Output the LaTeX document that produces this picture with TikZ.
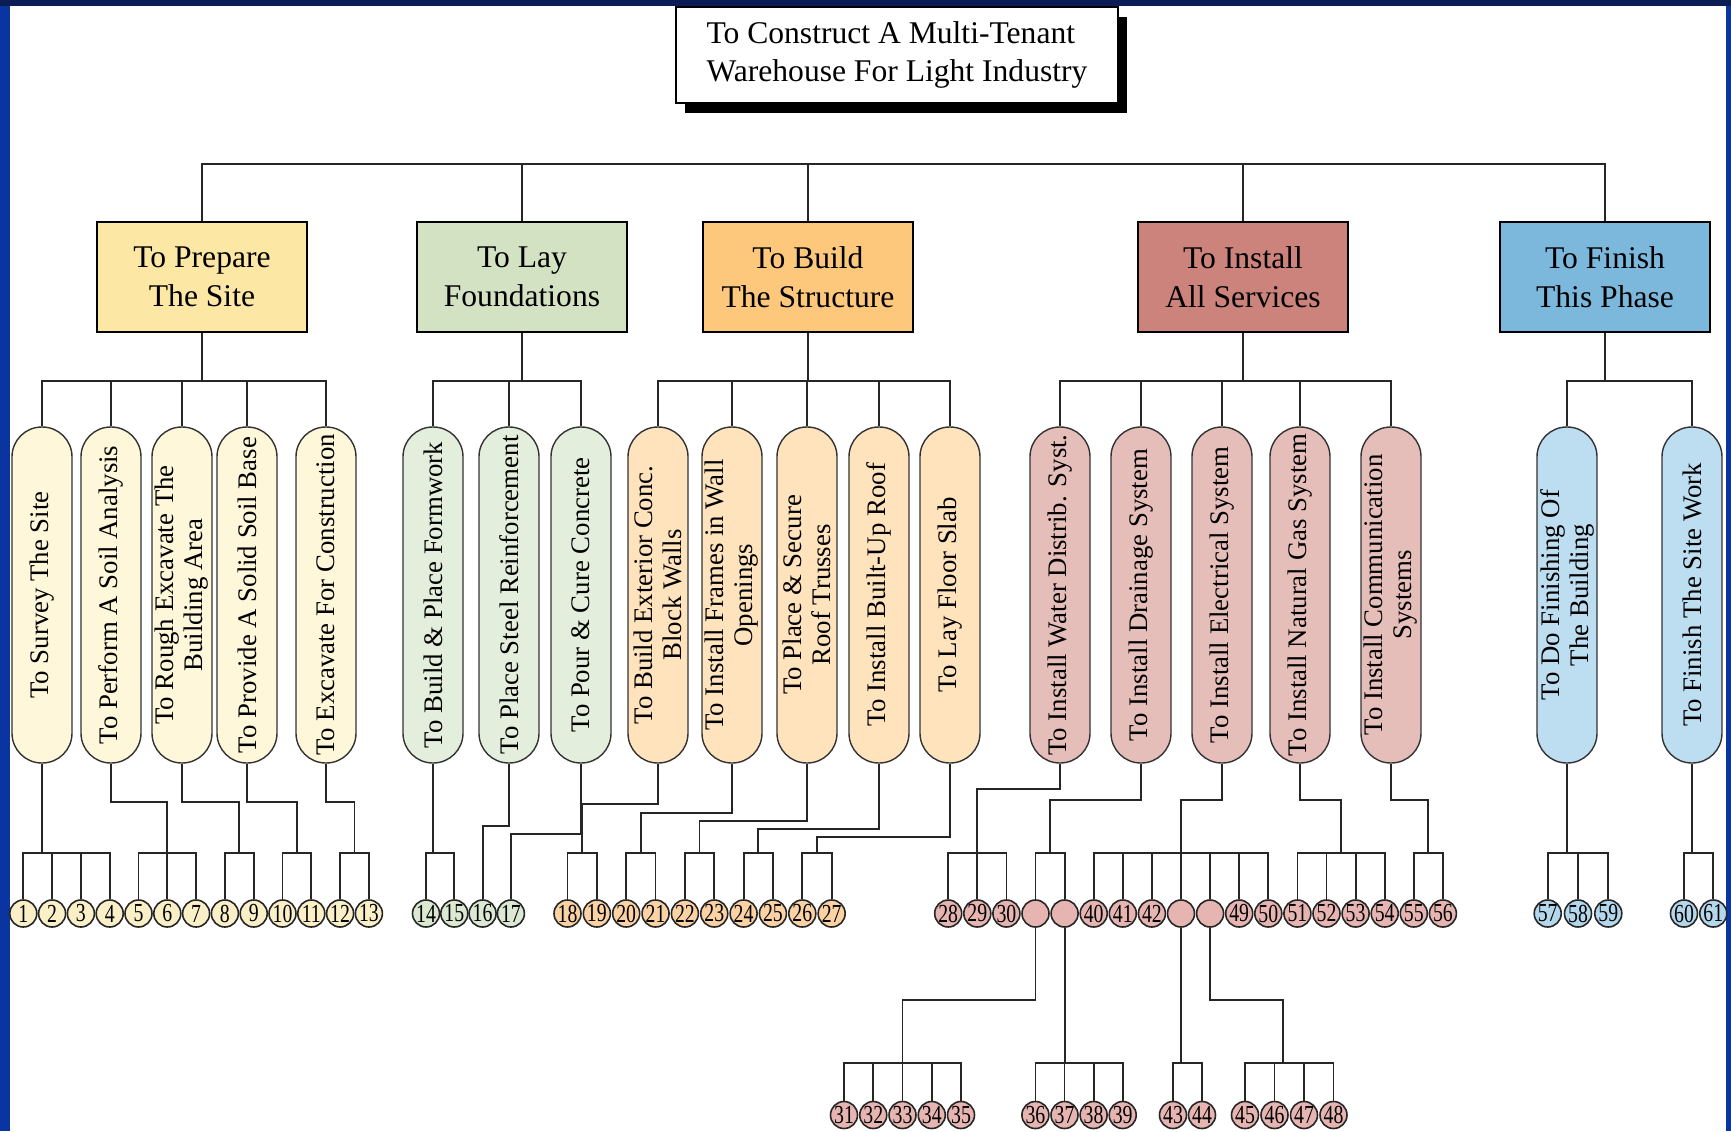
\documentclass[tikz,border=0pt]{standalone}
\usepackage{fontspec}
\usepackage{graphicx}
\setmainfont{Liberation Serif}
\usetikzlibrary{calc,shadows}

% frame colours
\definecolor{framenavy}{HTML}{0A1E55}
\definecolor{frameblue}{HTML}{0A35A0}
% phase colours: box / task pill / work package circle
\definecolor{boxY}{HTML}{FCE8A4}\definecolor{pillY}{HTML}{FEF7DA}\definecolor{numY}{HTML}{FAEFC6}
\definecolor{boxG}{HTML}{D2E2C2}\definecolor{pillG}{HTML}{E3EFDC}\definecolor{numG}{HTML}{DBE8D2}
\definecolor{boxO}{HTML}{FEC87C}\definecolor{pillO}{HTML}{FFE3BD}\definecolor{numO}{HTML}{FAD2A4}
\definecolor{boxR}{HTML}{CB837C}\definecolor{pillR}{HTML}{E6BEB9}\definecolor{numR}{HTML}{E6B5B1}
\definecolor{boxB}{HTML}{7CB8DC}\definecolor{pillB}{HTML}{BDDDF0}\definecolor{numB}{HTML}{B4D7EC}

\newcommand\numtxt[1]{\scalebox{0.76}[1]{#1}}
% a bus above a row of circles: #1 bus level, #2 first, #3 last, #4 inner drops
\newcommand\twig[4]{%
  \draw[wire] (#2.north) -- (#2.north |- #1) -- (#3.north |- #1) -- (#3.north);
  \foreach \m in {#4} {\draw[wire] (\m.north) -- (\m.north |- #1);}}

\begin{document}
\begin{tikzpicture}[x=0.5pt,y=-0.5pt,
  wire/.style={draw=black!85,line width=0.9pt},
  root/.style={draw,line width=1pt,fill=white,minimum width=221pt,minimum height=48pt,
    inner sep=0pt,align=left,font=\fontsize{15.8}{19.3}\selectfont,
    drop shadow={shadow xshift=4.5pt,shadow yshift=-5pt,fill=black,opacity=1}},
  phase/.style={draw,line width=0.9pt,minimum width=105pt,minimum height=55pt,
    inner sep=0pt,align=center,font=\fontsize{15.8}{19.3}\selectfont},
  pill/.style={draw=black!80,line width=0.7pt,rounded corners=14.9pt,rotate=90,
    minimum width=168pt,minimum height=30pt,inner sep=0pt,align=center,
    font=\fontsize{13.4}{14.5}\selectfont},
  num/.style={circle,draw=black!85,line width=0.8pt,minimum size=13.5pt,inner sep=0pt,
    font=\fontsize{13}{13}\selectfont}]

\useasboundingbox (0,0) rectangle (1731,1131);
\fill[white] (0,0) rectangle (1731,1131);
\fill[framenavy] (0,0) rectangle (1731,6);
\fill[frameblue] (0,6) rectangle (10,1131);
\fill[frameblue] (1726,6) rectangle (1731,1131);

% levels of the horizontal buses
\coordinate (ytop) at (0,164);
\coordinate (ymid) at (0,381);
\coordinate (ybus) at (0,853);
\coordinate (ybus3) at (0,1063);

% goal
\node[root] (root) at (897,55) {To Construct A Multi-Tenant\\Warehouse For Light Industry};

% phases
\node[phase,fill=boxY] (ph1) at (202,277) {To Prepare\\The Site};
\node[phase,fill=boxG] (ph2) at (522,277) {To Lay\\Foundations};
\node[phase,fill=boxO] (ph3) at (808,277) {To Build\\The Structure};
\node[phase,fill=boxR] (ph4) at (1243,277) {To Install\\All Services};
\node[phase,fill=boxB] (ph5) at (1605,277) {To Finish\\This Phase};

% tasks
\node[pill,fill=pillY] (p1) at (42,595) {To Survey The Site};
\node[pill,fill=pillY] (p2) at (111,595) {To Perform A Soil Analysis};
\node[pill,fill=pillY] (p3) at (182,595) {To Rough Excavate The\\Building Area};
\node[pill,fill=pillY] (p4) at (247,595) {To Provide A Solid Soil Base};
\node[pill,fill=pillY] (p5) at (326,595) {To Excavate For Construction};
\node[pill,fill=pillG] (p6) at (433,595) {To Build \& Place Formwork};
\node[pill,fill=pillG] (p7) at (509,595) {To Place Steel Reinforcement};
\node[pill,fill=pillG] (p8) at (581,595) {To Pour \& Cure Concrete};
\node[pill,fill=pillO] (p9) at (658,595) {To Build Exterior Conc.\\Block Walls};
\node[pill,fill=pillO] (p10) at (732,595) {To Install Frames in Wall\\Openings};
\node[pill,fill=pillO] (p11) at (807,595) {To Place \& Secure\\Roof Trusses};
\node[pill,fill=pillO] (p12) at (879,595) {To Install Built-Up Roof};
\node[pill,fill=pillO] (p13) at (950,595) {To Lay Floor Slab};
\node[pill,fill=pillR] (p14) at (1060,595) {To Install Water Distrib. Syst.};
\node[pill,fill=pillR] (p15) at (1141,595) {To Install Drainage System};
\node[pill,fill=pillR] (p16) at (1222,595) {To Install Electrical System};
\node[pill,fill=pillR] (p17) at (1300,595) {To Install Natural Gas System};
\node[pill,fill=pillR] (p18) at (1391,595) {To Install Communication\\Systems};
\node[pill,fill=pillB] (p19) at (1567,595) {To Do Finishing Of\\The Building};
\node[pill,fill=pillB] (p20) at (1692,595) {To Finish The Site Work};

% work packages, second row
\foreach \n [count=\k from 0] in {1,...,13}
  \node[num,fill=numY] (c\n) at ({23.3+28.8*\k},913.5) {\numtxt{\n}};
\foreach \n [count=\k from 0] in {14,...,17}
  \node[num,fill=numG] (c\n) at ({426+28.3*\k},913.5) {\numtxt{\n}};
\foreach \n [count=\k from 0] in {18,...,27}
  \node[num,fill=numO] (c\n) at ({567.5+29.35*\k},913.5) {\numtxt{\n}};
\foreach \n/\t [count=\k from 0] in {c28/28,c29/29,c30/30,w1/{},w2/{},c40/40,c41/41,c42/42,
    w3/{},w4/{},c49/49,c50/50,c51/51,c52/52,c53/53,c54/54,c55/55,c56/56}
  \node[num,fill=numR] (\n) at ({948.2+29.1*\k},913.5) {\numtxt{\t}};
\foreach \n [count=\k from 0] in {57,58,59}
  \node[num,fill=numB] (c\n) at ({1547.7+30.3*\k},913.5) {\numtxt{\n}};
\node[num,fill=numB] (c60) at (1684,913.5) {\numtxt{60}};
\node[num,fill=numB] (c61) at (1713.3,913.5) {\numtxt{61}};

% work packages, third row
\foreach \n [count=\k from 0] in {31,...,35}
  \node[num,fill=numR] (c\n) at ({844+29.25*\k},1115) {\numtxt{\n}};
\foreach \n [count=\k from 0] in {36,...,39}
  \node[num,fill=numR] (c\n) at ({1035.4+29.1*\k},1115) {\numtxt{\n}};
\node[num,fill=numR] (c43) at (1173,1115) {\numtxt{43}};
\node[num,fill=numR] (c44) at (1202,1115) {\numtxt{44}};
\foreach \n [count=\k from 0] in {45,...,48}
  \node[num,fill=numR] (c\n) at ({1245+29.5*\k},1115) {\numtxt{\n}};

% goal to phases
\draw[wire] (ph1.north) -- (ph1.north |- ytop) -- (ph5.north |- ytop) -- (ph5.north);
\foreach \i in {2,3,4} {\draw[wire] (ph\i.north) -- (ph\i.north |- ytop);}

% phases to tasks
\foreach \ph/\a/\b/\mids in {1/1/5/{2,3,4},2/6/8/{7},3/9/13/{10,11,12},4/14/18/{15,16,17},5/19/20/{20}} {
  \draw[wire] (ph\ph.south) -- (ph\ph.south |- ymid);
  \draw[wire] (p\a.east) -- (p\a.east |- ymid) -- (p\b.east |- ymid) -- (p\b.east);
  \foreach \m in \mids {\draw[wire] (p\m.east) -- (p\m.east |- ymid);}
}

% tasks to work packages: site preparation
\coordinate (j1) at (0,802);
\draw[wire] (p1.west) -- (p1.west |- ybus);
\twig{ybus}{c1}{c4}{c2,c3}
\draw[wire] (p2.west) -- (p2.west |- j1) -| (c6.north |- ybus);
\twig{ybus}{c5}{c7}{c6}
\coordinate (k3) at ($(c8.north)!0.5!(c9.north)$);
\draw[wire] (p3.west) -- (p3.west |- j1) -| (k3 |- ybus);
\twig{ybus}{c8}{c9}{c9}
\coordinate (k4) at ($(c10.north)!0.5!(c11.north)$);
\draw[wire] (p4.west) -- (p4.west |- j1) -| (k4 |- ybus);
\twig{ybus}{c10}{c11}{c11}
\coordinate (k5) at ($(c12.north)!0.5!(c13.north)$);
\draw[wire] (p5.west) -- (p5.west |- j1) -| (k5 |- ybus);
\twig{ybus}{c12}{c13}{c13}

% foundations
\draw[wire] (p6.west) -- (p6.west |- ybus);
\twig{ybus}{c14}{c15}{c15}
\coordinate (j7) at (0,826);
\draw[wire] (p7.west) -- (p7.west |- j7) -| (c16.north);
\coordinate (j8) at (0,834);
\draw[wire] (p8.west) -- (p8.west |- j8) -| (c17.north);

% structure
\foreach \p/\jy/\a/\b in {9/804/18/19,10/812.7/20/21,11/821/22/23,12/829.3/24/25,13/837.3/26/27} {
  \coordinate (j\p) at (0,\jy);
  \coordinate (k\p) at ($(c\a.north)!0.5!(c\b.north)$);
  \draw[wire] (p\p.west) -- (p\p.west |- j\p) -| (k\p |- ybus);
  \twig{ybus}{c\a}{c\b}{c\b}
}

% services
\coordinate (j14) at (0,789);
\coordinate (j15) at (0,800);
\draw[wire] (p14.west) -- (p14.west |- j14) -| (c29.north |- ybus);
\twig{ybus}{c28}{c30}{c29}
\coordinate (k15) at ($(w1.north)!0.5!(w2.north)$);
\draw[wire] (p15.west) -- (p15.west |- j15) -| (k15 |- ybus);
\twig{ybus}{w1}{w2}{w2}
\draw[wire] (p16.west) -- (p16.west |- j15) -| (w3.north |- ybus);
\twig{ybus}{c40}{c50}{c41,c42,w3,w4,c49}
\coordinate (k17) at ($(c52.north)!0.5!(c53.north)$);
\draw[wire] (p17.west) -- (p17.west |- j15) -| (k17 |- ybus);
\twig{ybus}{c51}{c54}{c52,c53}
\coordinate (k18) at ($(c55.north)!0.5!(c56.north)$);
\draw[wire] (p18.west) -- (p18.west |- j15) -| (k18 |- ybus);
\twig{ybus}{c55}{c56}{c56}

% finishing
\draw[wire] (p19.west) -- (p19.west |- ybus);
\twig{ybus}{c57}{c59}{c58}
\draw[wire] (p20.west) -- (p20.west |- ybus);
\twig{ybus}{c60}{c61}{c61}

% services, third row
\coordinate (j3) at (0,1000);
\draw[wire] (w1.south) -- (w1.south |- j3) -| (c33.north |- ybus3);
\twig{ybus3}{c31}{c35}{c32,c33,c34}
\draw[wire] (w2.south) -- (w2.south |- ybus3);
\twig{ybus3}{c36}{c39}{c37,c38}
\draw[wire] (w3.south) -- (w3.south |- ybus3);
\twig{ybus3}{c43}{c44}{c44}
\coordinate (kw4) at ($(c46.north)!0.3!(c47.north)$);
\draw[wire] (w4.south) -- (w4.south |- j3) -| (kw4 |- ybus3);
\twig{ybus3}{c45}{c48}{c46,c47}

\end{tikzpicture}
\end{document}
